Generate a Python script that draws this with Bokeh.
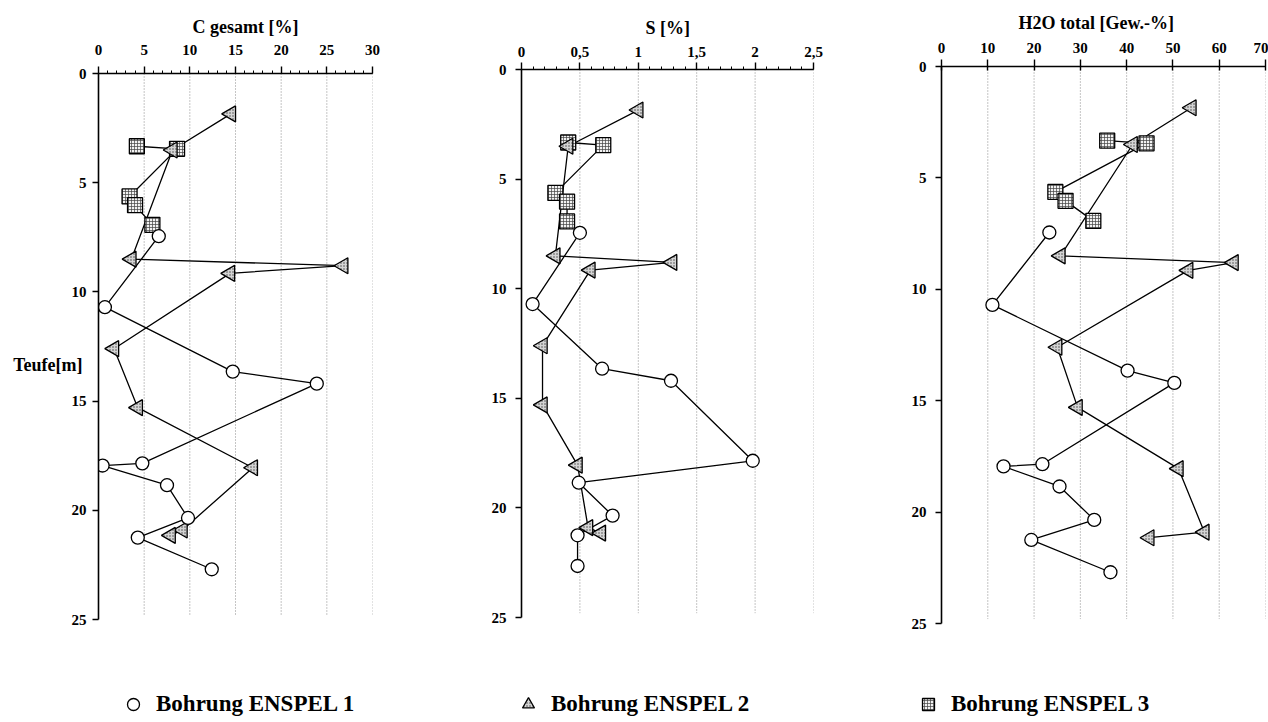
import numpy as np
from bokeh.plotting import figure
from bokeh.layouts import row, column
from bokeh.models import Range1d, FixedTicker, Legend, LegendItem, Title
from bokeh.embed import file_html
from bokeh.resources import INLINE

FONT = "Liberation Serif"

# ---------------- data ----------------
# sample depths (Teufe, m) per borehole
e1_depth = [7.45, 10.7, 13.65, 14.2, 17.85, 17.95, 18.85, 20.35, 21.25, 22.7]
e1_depth_s = [7.45, 10.7, 13.65, 14.2, 17.85, 18.85, 20.35, 21.25, 22.65]
e2_depth = [1.85, 3.5, 8.5, 8.8, 9.15, 12.6, 15.3, 18.05, 20.9, 21.15]
e3_depth = [3.33, 3.45, 5.63, 6.03, 6.93]

# C gesamt [%]
c_e1 = [6.6, 0.7, 14.7, 23.9, 4.8, 0.45, 7.5, 9.8, 4.3, 12.4]
c_e2 = [14.5, 8.1, 3.6, 26.8, 14.4, 1.7, 4.3, 16.9, 9.2, 7.9]
c_e3 = [4.2, 8.6, 3.4, 4.0, 5.9]

# S [%]
s_e1 = [0.50, 0.095, 0.69, 1.28, 1.98, 0.49, 0.78, 0.48, 0.48]
s_e2 = [1.0, 0.40, 0.29, 1.29, 0.59, 0.18, 0.18, 0.48, 0.57, 0.68]
s_e3 = [0.40, 0.70, 0.29, 0.39, 0.39]

# H2O total [Gew.-%]
h_e1 = [23.3, 11.0, 40.2, 50.3, 21.8, 13.4, 25.5, 33.0, 19.4, 36.5]
h_e2 = [54.0, 41.3, 25.7, 63.1, 53.3, 25.0, 29.4, 51.2, 56.8, 44.9]
h_e3 = [35.8, 44.3, 24.6, 26.8, 32.8]

# ticks
depth_ticks = [0, 5, 10, 15, 20, 25]
c_ticks = [0, 5, 10, 15, 20, 25, 30]
c_minor = list(range(0, 31))
s_ticks = [0, 0.5, 1, 1.5, 2, 2.5]
s_minor = [round(i * 0.1, 1) for i in range(0, 26)]
s_tick_labels = ["0", "0,5", "1", "1,5", "2", "2,5"]
h_ticks = [0, 10, 20, 30, 40, 50, 60, 70]

titles = ["C gesamt [%]", "S [%]", "H2O total [Gew.-%]"]
legend_labels = ["Bohrung ENSPEL 1", "Bohrung ENSPEL 2", "Bohrung ENSPEL 3"]
depth_label = "Teufe[m]"

FRAME_BOTTOM = 655
H = FRAME_BOTTOM + 3
DEPTH_MAX = 25


def draw_markers(p, xs, ds, kind):
    if kind == "circle":
        return p.scatter(xs, ds, marker="circle", size=13, fill_color="white",
                         line_color="black", line_width=1.3)
    if kind == "triangle":
        return p.scatter(xs, ds, marker="triangle", size=16, angle=np.pi / 2,
                         fill_color="#d4d4d4", line_color="black", line_width=1.3,
                         hatch_pattern=".", hatch_color="#444444", hatch_scale=3,
                         hatch_weight=1.0)
    return p.scatter(xs, ds, marker="square", size=15, fill_color="#f2f2f2",
                     line_color="black", line_width=1.3,
                     hatch_pattern="+", hatch_color="#444444", hatch_scale=3,
                     hatch_weight=0.7)


def make_panel(width, bl, br, top, px_per_m, xmax, xticks, minor, labels, x_standoff,
               y_standoff, tick_in, series, title, title_offset, title_standoff):
    dbot = (FRAME_BOTTOM - top) / px_per_m
    p = figure(width=width, height=H, x_range=Range1d(0, xmax), y_range=Range1d(dbot, 0),
               x_axis_location="above", output_backend="svg", toolbar_location=None,
               min_border_left=bl, min_border_right=br, min_border_top=top,
               min_border_bottom=H - FRAME_BOTTOM)
    p.outline_line_color = None
    p.grid.visible = False
    p.background_fill_color = "white"
    p.border_fill_color = "white"

    xa = p.xaxis[0]
    xa.ticker = FixedTicker(ticks=xticks, minor_ticks=minor)
    if labels is not None:
        xa.major_label_overrides = {t: l for t, l in zip(xticks, labels)}
    xa.major_tick_in = tick_in
    xa.major_tick_out = 7
    xa.minor_tick_in = 0
    xa.minor_tick_out = 3 if minor else 0
    xa.axis_line_width = 1.6
    xa.major_tick_line_width = 1.4
    xa.minor_tick_line_width = 1.0
    xa.major_label_text_font = FONT
    xa.major_label_text_font_style = "bold"
    xa.major_label_text_font_size = "15px"
    xa.major_label_text_color = "black"
    xa.major_label_standoff = x_standoff

    ya = p.yaxis[0]
    ya.ticker = FixedTicker(ticks=depth_ticks, minor_ticks=[])
    ya.bounds = (0, DEPTH_MAX)
    ya.major_tick_in = 0
    ya.major_tick_out = 6
    ya.minor_tick_out = 0
    ya.axis_line_width = 1.6
    ya.major_tick_line_width = 1.4
    ya.major_label_text_font = FONT
    ya.major_label_text_font_style = "bold"
    ya.major_label_text_font_size = "15px"
    ya.major_label_text_color = "black"
    ya.major_label_standoff = y_standoff

    # dotted vertical guide lines at major ticks
    gx = [t for t in xticks if t != 0]
    p.segment(x0=gx, y0=[0] * len(gx), x1=gx, y1=[24.8] * len(gx),
              line_color="#8a8a8a", line_width=1, line_dash="1 2")

    for (xs, ds, kind) in series:
        p.line(xs, ds, line_color="black", line_width=1.3)
    for (xs, ds, kind) in reversed(series):
        draw_markers(p, xs, ds, kind)

    p.add_layout(Title(text=title, align="left", offset=title_offset,
                       standoff=title_standoff, text_font=FONT, text_font_style="bold",
                       text_font_size="18px", text_color="black"), "above")
    return p


series1 = [(c_e1, e1_depth, "circle"), (c_e2, e2_depth, "triangle"), (c_e3, e3_depth, "square")]
series2 = [(s_e1, e1_depth_s, "circle"), (s_e2, e2_depth, "triangle"), (s_e3, e3_depth, "square")]
series3 = [(h_e1, e1_depth, "circle"), (h_e2, e2_depth, "triangle"), (h_e3, e3_depth, "square")]

# panel 1: frame x 98..372, depth 0 at y=73
p1 = make_panel(450, 98, 78, 73, 21.84, 30, c_ticks, c_minor, None, 12, 6, 0,
                series1, titles[0], 94, 9)
ya1 = p1.yaxis[0]
ya1.axis_label = depth_label
ya1.axis_label_orientation = "horizontal"
ya1.axis_label_text_font = FONT
ya1.axis_label_text_font_style = "bold"
ya1.axis_label_text_font_size = "18px"
ya1.axis_label_text_color = "black"
ya1.axis_label_standoff = -14

# panel 2: frame x 521..813, depth 0 at y=69
p2 = make_panel(430, 71, 67, 69, 21.92, 2.5, s_ticks, s_minor, s_tick_labels, 6, 9, 0,
                series2, titles[1], 124, 12)

# panel 3: frame x 941..1265, depth 0 at y=66
p3 = make_panel(388, 61, 3, 66, 22.28, 70, h_ticks, [], None, 7, 9, 4,
                series3, titles[2], 77, 13)

# ---------------- legend strip ----------------
LH = 720 - H
pl = figure(width=1268, height=LH, x_range=Range1d(-2, -1), y_range=Range1d(-2, -1),
            x_axis_location=None, y_axis_location=None, output_backend="svg",
            toolbar_location=None, min_border=0)
pl.outline_line_color = None
pl.grid.visible = False
legend_x = [118, 513, 913]
for lab, (xs, ds, kind), lx in zip(legend_labels,
                                   [series1[0], series2[1], series3[2]], legend_x):
    r = draw_markers(pl, xs, ds, kind)  # data lies outside this strip's ranges
    leg = Legend(items=[LegendItem(label=lab, renderers=[r])], location=(lx, 1),
                 glyph_width=30, glyph_height=30, label_standoff=8, padding=0, margin=0,
                 spacing=0, border_line_color=None, background_fill_alpha=0,
                 label_text_font=FONT, label_text_font_style="bold",
                 label_text_font_size="23px", label_text_color="black")
    pl.add_layout(leg)

layout = column(row(column(p1), column(p2), column(p3)), pl)
open("out.html", "w").write(file_html(layout, INLINE))
